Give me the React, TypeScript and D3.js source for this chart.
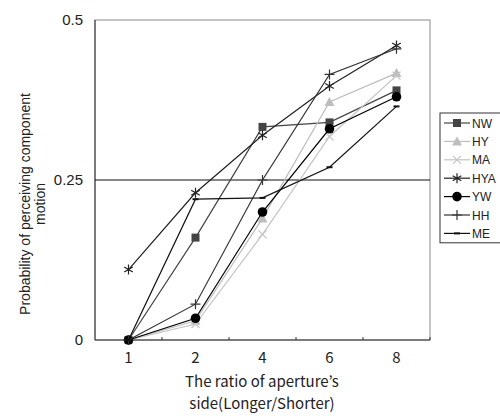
import React from 'react';
import * as d3 from 'd3';

const ratios = ['1', '2', '4', '6', '8'];
const yTicks = [0, 0.25, 0.5];

const nw = [0, 0.16, 0.333, 0.34, 0.39];
const hy = [0, 0.03, 0.19, 0.372, 0.417];
const ma = [0, 0.025, 0.165, 0.318, 0.413];
const hya = [0.11, 0.23, 0.32, 0.397, 0.46];
const yw = [0, 0.034, 0.2, 0.33, 0.38];
const hh = [0, 0.056, 0.25, 0.415, 0.455];
const me = [0, 0.22, 0.222, 0.27, 0.365];

const seriesNames = ['NW', 'HY', 'MA', 'HYA', 'YW', 'HH', 'ME'];
const seriesValues = [nw, hy, ma, hya, yw, hh, me];
const seriesColors = ['#444', '#bdbdbd', '#c4c4c4', '#222', '#000', '#333', '#111'];
const seriesMarkers = ['square', 'triangle', 'cross', 'asterisk', 'circle', 'plus', 'dash'];

const W = 500;
const H = 416;
const margin = { top: 20, right: 70, bottom: 76, left: 95 };

function Marker({ kind, x, y, color }: { kind: string; x: number; y: number; color: string }) {
  const t = `translate(${x},${y})`;
  switch (kind) {
    case 'square':
      return <rect transform={t} x={-4} y={-4} width={8} height={8} fill={color} />;
    case 'triangle':
      return <path transform={t} d="M0,-5L5,4L-5,4Z" fill={color} />;
    case 'cross':
      return <path transform={t} d="M-4,-4L4,4M-4,4L4,-4" stroke={color} strokeWidth={1.2} />;
    case 'asterisk':
      return <path transform={t} d="M0,-5L0,5M-4.3,-2.5L4.3,2.5M-4.3,2.5L4.3,-2.5" stroke={color} strokeWidth={1.2} />;
    case 'circle':
      return <circle transform={t} r={4.8} fill={color} />;
    case 'plus':
      return <path transform={t} d="M0,-5L0,5M-5,0L5,0" stroke={color} strokeWidth={1.2} />;
    case 'dash':
      return <rect transform={t} x={-3} y={-1} width={6} height={2} fill={color} />;
    default:
      return null;
  }
}

export default function App() {
  const x = d3.scaleBand().domain(ratios).range([margin.left, W - margin.right]);
  const y = d3.scaleLinear().domain([0, 0.5]).range([H - margin.bottom, margin.top]);
  const cx = (c: string) => (x(c) as number) + x.bandwidth() / 2;
  const line = d3.line<number>()
    .x((_, i) => cx(ratios[i]))
    .y(d => y(d));

  const x0 = margin.left;
  const x1 = W - margin.right;
  const yBottom = y(0);
  const yTop = y(0.5);

  // legend
  const legX = 440;
  const legTop = 113;
  const legStep = 18.4;

  return (
    <svg width={W} height={H} style={{ position: 'absolute', left: 0, top: 0, background: '#fff' }}>
      {/* frame */}
      <rect x={x0} y={yTop} width={x1 - x0} height={yBottom - yTop} fill="none" stroke="#8a8a8a" strokeWidth={1} />
      <line x1={x0} x2={x0} y1={yTop} y2={yBottom} stroke="#333" />
      <line x1={x0} x2={x1} y1={yBottom} y2={yBottom} stroke="#333" />
      {/* 0.25 reference line */}
      <line x1={x0} x2={x1} y1={y(0.25)} y2={y(0.25)} stroke="#111" strokeWidth={1.2} />

      {/* x ticks at band boundaries */}
      {ratios.slice(1).map(c => (
        <line key={c} x1={x(c)} x2={x(c)} y1={yBottom} y2={yBottom - 3} stroke="#333" />
      ))}
      <line x1={x1} x2={x1} y1={yBottom} y2={yBottom - 3} stroke="#333" />

      {/* tick labels */}
      {ratios.map(c => (
        <text key={c} x={cx(c)} y={yBottom + 23} textAnchor="middle" fontSize={15}
          fontFamily="'Noto Sans CJK JP', sans-serif" fill="#222">{c}</text>
      ))}
      {yTicks.map(v => (
        <text key={v} x={83} y={y(v) + 5} textAnchor="end" fontSize={15}
          fontFamily="'Liberation Sans', Arial, sans-serif" fill="#222">{v}</text>
      ))}

      {/* axis titles */}
      <text x={262} y={387} textAnchor="middle" fontSize={15}
        fontFamily="'Noto Sans CJK JP', sans-serif" fill="#222">The ratio of aperture’s</text>
      <text x={262} y={409} textAnchor="middle" fontSize={15}
        fontFamily="'Noto Sans CJK JP', sans-serif" fill="#222">side(Longer/Shorter)</text>
      <g transform="translate(24,204) rotate(-90)" fontSize={14}
        fontFamily="'Liberation Sans', Arial, sans-serif" fill="#222">
        <text x={0} y={6} textAnchor="middle">Probability of perceiving component</text>
        <text x={0} y={21} textAnchor="middle">motion</text>
      </g>

      {/* series */}
      {seriesValues.map((vals, si) => (
        <g key={seriesNames[si]}>
          <path d={line(vals) || ''} fill="none" stroke={seriesColors[si]} strokeWidth={1.2} />
          {vals.map((v, i) => (
            <Marker key={i} kind={seriesMarkers[si]} x={cx(ratios[i])} y={y(v)} color={seriesColors[si]} />
          ))}
        </g>
      ))}

      {/* legend */}
      <rect x={legX} y={legTop} width={70} height={legStep * seriesNames.length + 1} fill="#fff" stroke="#333" />
      {seriesNames.map((n, i) => {
        const ly = legTop + 10 + i * legStep;
        return (
          <g key={n}>
            <line x1={legX + 4} x2={legX + 30} y1={ly} y2={ly} stroke={seriesColors[i]} strokeWidth={1.2} />
            <Marker kind={seriesMarkers[i]} x={legX + 17} y={ly} color={seriesColors[i]} />
            <text x={legX + 32} y={ly + 4.5} fontSize={12}
              fontFamily="'Liberation Sans', Arial, sans-serif" fill="#222">{n}</text>
          </g>
        );
      })}
    </svg>
  );
}
